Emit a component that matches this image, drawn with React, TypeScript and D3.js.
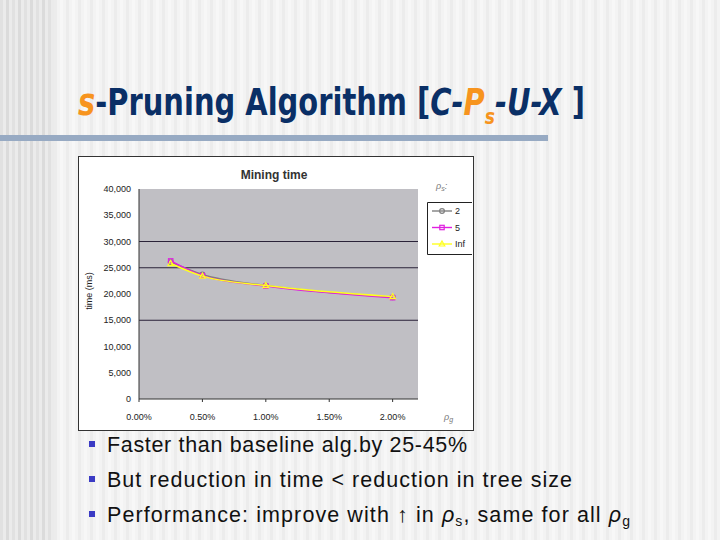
import * as d3 from 'd3'

// mining time (ms) vs rho_g, one series per rho_s
const RHO_G = [0.0025, 0.005, 0.01, 0.02]
const SERIES_2 = [26100, 23700, 21600, 19400]
const SERIES_5 = [26300, 23500, 21500, 19300]
const SERIES_INF = [25800, 23400, 21600, 19500]
const SERIES_NAMES = ['2', '5', 'Inf']
const X_TICKS = [0, 0.005, 0.01, 0.015, 0.02]
const Y_TICKS = [0, 5000, 10000, 15000, 20000, 25000, 30000, 35000, 40000]
const GRID_LINES = [15000, 25000, 30000]
const BULLETS = [
  'Faster than baseline alg.by 25-45%',
  'But reduction in time < reduction in tree size',
]

const NAVY = '#0a2f66'
const ORANGE = '#f7941e'

const series = [
  { name: SERIES_NAMES[0], values: SERIES_2, color: '#808080', marker: 'circle' },
  { name: SERIES_NAMES[1], values: SERIES_5, color: '#e020e0', marker: 'square' },
  { name: SERIES_NAMES[2], values: SERIES_INF, color: '#ffff20', marker: 'triangle' },
]

function Marker({ kind, x, y, color }: { kind: string; x: number; y: number; color: string }) {
  if (kind === 'circle') return <circle cx={x} cy={y} r={2.4} fill="none" stroke={color} strokeWidth={1.2} />
  if (kind === 'square') return <rect x={x - 2.2} y={y - 2.2} width={4.4} height={4.4} fill="none" stroke={color} strokeWidth={1.2} />
  return <path d={`M${x},${y - 3}L${x + 2.8},${y + 2}L${x - 2.8},${y + 2}Z`} fill="none" stroke={color} strokeWidth={1.2} />
}

export default function App() {
  const x = d3.scaleLinear().domain([0, 0.022]).range([139, 418])
  const y = d3.scaleLinear().domain([0, 40000]).range([399, 189])
  const line = d3.line<number>().x((_, i) => x(RHO_G[i])).y(d => y(d)).curve(d3.curveMonotoneX)
  const pct = d3.format('.2%')
  const num = d3.format(',')

  // slide background stripes
  const stripes = d3.range(0, 720, 6)
  const bulletWidths = [360, 465]

  return (
    <svg width={720} height={540} style={{ position: 'absolute', left: 0, top: 0 }}
      fontFamily="'Liberation Sans', Arial, sans-serif">
      <rect width={720} height={540} fill="#f3f3f3" />
      {stripes.map((s, i) => (
        <rect key={s} x={s} y={0} width={3} height={540}
          fill={s < 54 ? (i % 2 ? '#dadada' : '#e4e4e4') : (i % 2 ? '#ececec' : '#f7f7f7')} />
      ))}
      <rect x={0} y={0} width={54} height={540} fill="#dcdcdc" opacity={0.35} />

      {/* slide title */}
      <text x={78} y={115} fontFamily="'DejaVu Sans Condensed', 'Liberation Sans Narrow', sans-serif"
        fontWeight="bold" fontSize={37} fill={NAVY} textLength={507} lengthAdjust="spacingAndGlyphs">
        <tspan fill={ORANGE} fontStyle="italic">s</tspan>
        <tspan>-Pruning Algorithm [</tspan>
        <tspan fontStyle="italic">C-</tspan>
        <tspan fill={ORANGE} fontStyle="italic">P</tspan>
        <tspan fill={ORANGE} fontStyle="italic" fontSize={22} dy={9}>s</tspan>
        <tspan fontStyle="italic" dy={-9}>-U-X</tspan>
        <tspan> ]</tspan>
      </text>
      <rect x={0} y={135} width={548} height={6} fill="#97aac3" />

      {/* chart image */}
      <rect x={78.5} y={156.5} width={395} height={274} fill="#ffffff" stroke="#333" strokeWidth={1} />
      <text x={274} y={179} textAnchor="middle" fontWeight="bold" fontSize={12} fill="#333">Mining time</text>

      <rect x={139} y={189} width={279} height={210} fill="#c0bfc4" />
      {GRID_LINES.map(v => (
        <line key={v} x1={139} x2={418} y1={y(v)} y2={y(v)} stroke="#2a2238" strokeWidth={1} />
      ))}
      <line x1={139} x2={418} y1={399} y2={399} stroke="#333" strokeWidth={1} />
      <line x1={139} x2={139} y1={189} y2={399} stroke="#333" strokeWidth={1} />

      {Y_TICKS.map(t => (
        <text key={t} x={131} y={y(t)} dy="0.35em" textAnchor="end" fontSize={9} fill="#222">{num(t)}</text>
      ))}
      {X_TICKS.map(t => (
        <g key={t}>
          <line x1={x(t)} x2={x(t)} y1={399} y2={402} stroke="#333" />
          <text x={x(t)} y={420} textAnchor="middle" fontSize={9} fill="#222">{pct(t)}</text>
        </g>
      ))}
      <text transform="translate(92,291) rotate(-90)" textAnchor="middle" fontSize={9} fill="#222">time (ms)</text>
      <text x={444} y={420} fontSize={9} fontStyle="italic" fill="#777">ρ<tspan fontSize={7} dy={2}>g</tspan></text>

      {series.map(s => (
        <g key={s.name}>
          <path d={line(s.values) ?? ''} fill="none" stroke={s.color} strokeWidth={1.5} />
          {s.values.map((v, i) => (
            <Marker key={i} kind={s.marker} x={x(RHO_G[i])} y={y(v)} color={s.color} />
          ))}
        </g>
      ))}

      {/* legend */}
      <text x={436} y={189} fontSize={9} fontStyle="italic" fill="#777">ρ<tspan fontSize={7} dy={2}>s</tspan><tspan dy={-2}>:</tspan></text>
      <path d="M472,202.5H427.5V254.5H472" fill="#fff" stroke="#222" strokeWidth={1} />
      {series.map((s, i) => {
        const ly = 211 + i * 16.5
        return (
          <g key={s.name}>
            <line x1={432} x2={452} y1={ly} y2={ly} stroke={s.color} strokeWidth={1.4} />
            <Marker kind={s.marker} x={442} y={ly} color={s.color} />
            <text x={455} y={ly} dy="0.35em" fontSize={9} fill="#222">{s.name}</text>
          </g>
        )
      })}

      {/* bullets */}
      <g fontSize={21.5} fill="#111">
        {[...BULLETS, ''].map((b, i) => (
          <g key={i}>
            <rect x={89} y={441 + i * 35} width={6} height={6} fill="#3b3bc4" />
            {b && <text x={107} y={451.5 + i * 35} textLength={bulletWidths[i]} lengthAdjust="spacing">{b}</text>}
          </g>
        ))}
        <text x={107} y={521.5} textLength={523} lengthAdjust="spacing">
          Performance: improve with ↑ in <tspan fontStyle="italic">ρ</tspan><tspan fontSize={14} dy={4}>s</tspan><tspan dy={-4}>, same for all </tspan><tspan fontStyle="italic">ρ</tspan><tspan fontSize={14} dy={4}>g</tspan>
        </text>
      </g>
    </svg>
  )
}
